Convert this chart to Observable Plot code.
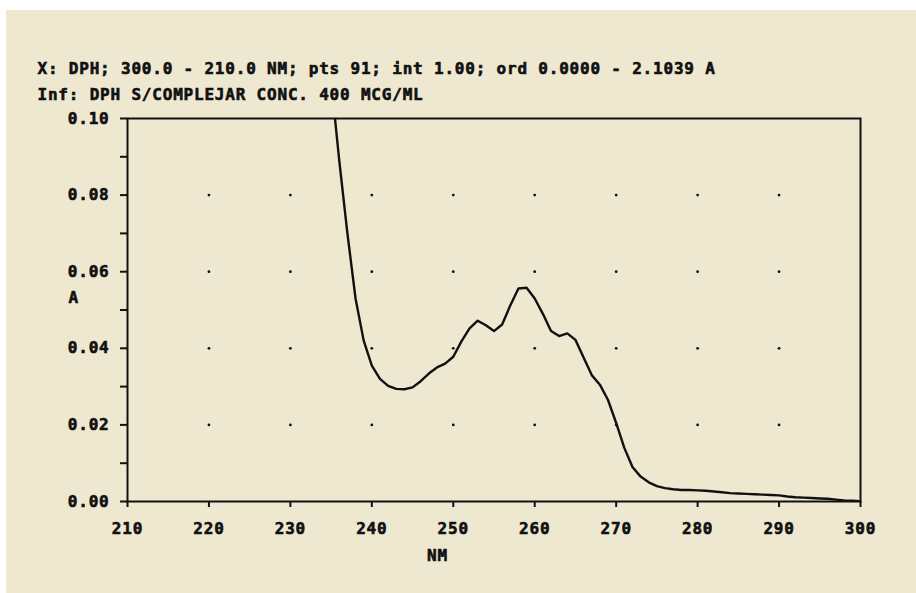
<!DOCTYPE html>
<html>
<head>
<meta charset="utf-8">
<script src="https://cdn.jsdelivr.net/npm/d3@7"></script>
<script src="https://cdn.jsdelivr.net/npm/@observablehq/plot@0.6"></script>
<style>
  html, body { margin: 0; padding: 0; background: #ffffff; }
  #paper { position: absolute; left: 6px; top: 10px; width: 910px; height: 583px; background: #efe8d1; }
  #chart { position: absolute; left: 0; top: 0; }
  #chart svg text { stroke: #111; stroke-width: 0.6px; }
</style>
</head>
<body>
<div id="paper"></div>
<div id="chart"></div>
<script>
// Header texts
const headerLine1 = "X: DPH; 300.0 - 210.0 NM; pts 91; int 1.00; ord 0.0000 - 2.1039 A";
const headerLine2 = "Inf: DPH S/COMPLEJAR CONC. 400 MCG/ML";
const xLabel = "NM";
const yLabel = "A";

// Wavelength grid: 300.0 - 210.0 nm, 91 points, interval 1.00
const wavelengths = d3.range(210, 301, 1);

// Absorbance values (210 ... 300 nm); values below 236 nm are off-scale
const absorbance = [
  2.104, 2.05, 1.95, 1.82, 1.66, 1.48, 1.29, 1.10, 0.93, 0.78,   // 210-219
  0.65, 0.54, 0.45, 0.38, 0.32, 0.27, 0.235, 0.205, 0.18, 0.16, // 220-229
  0.145, 0.133, 0.124, 0.117, 0.112, 0.110,                     // 230-235
  0.089, 0.070, 0.053, 0.042,                                   // 236-239
  0.0355, 0.032, 0.0302, 0.0294, 0.0293, 0.0298, 0.0314, 0.0334, 0.0350, 0.0360, // 240-249
  0.0378, 0.0418, 0.0452, 0.0472, 0.0460, 0.0445, 0.0462, 0.0512, 0.0556, 0.0558, // 250-259
  0.0530, 0.0490, 0.0445, 0.0432, 0.0439, 0.0422, 0.0376, 0.0330, 0.0305, 0.0265, // 260-269
  0.0205, 0.0140, 0.0090, 0.0065, 0.0050, 0.0040, 0.0035, 0.0032, 0.0030, 0.0030, // 270-279
  0.0029, 0.0028, 0.0026, 0.0024, 0.0022, 0.0021, 0.0020, 0.0019, 0.0018, 0.0017, // 280-289
  0.0016, 0.0013, 0.0011, 0.0010, 0.0009, 0.0008, 0.0007, 0.0005, 0.0003, 0.0002, // 290-299
  0.0001                                                          // 300
];

// Axis ticks
const xTicks = [210, 220, 230, 240, 250, 260, 270, 280, 290, 300];
const yTicksMajor = [0.00, 0.02, 0.04, 0.06, 0.08, 0.10];
const yTicksAll = [0.00, 0.01, 0.02, 0.03, 0.04, 0.05, 0.06, 0.07, 0.08, 0.09, 0.10];
const xGridDots = [220, 230, 240, 250, 260, 270, 280, 290];
const yGridDots = [0.02, 0.04, 0.06, 0.08];

const data = wavelengths.map((nm, i) => ({nm, a: absorbance[i]}));
const gridPts = xGridDots.flatMap(x => yGridDots.map(y => ({x, y})));
const isMajor = v => yTicksMajor.some(m => Math.abs(m - v) < 1e-9);

const font = "'DejaVu Sans Mono', 'Liberation Mono', monospace";

const plot = Plot.plot({
  width: 916,
  height: 593,
  marginLeft: 127,
  marginRight: 56,
  marginTop: 118,
  marginBottom: 92,
  style: {
    background: "transparent",
    fontFamily: font,
    fontSize: "16px",
    fontWeight: "bold",
    letterSpacing: "0.8px",
    color: "#111"
  },
  x: {domain: [210, 300], axis: null},
  y: {domain: [0, 0.1], axis: null},
  marks: [
    Plot.axisX({ticks: xTicks, tickSize: 6, tickPadding: 15, strokeWidth: 2, tickFormat: d => String(d)}),
    Plot.axisY({ticks: yTicksAll, tickSize: 7, tickPadding: 11, strokeWidth: 2,
      tickFormat: d => isMajor(d) ? d3.format(".2f")(d) : ""}),
    Plot.dot(gridPts, {x: "x", y: "y", r: 1.4, fill: "#111", stroke: null}),
    Plot.line(data, {x: "nm", y: "a", stroke: "#111", strokeWidth: 2.4, clip: true}),
    Plot.frame({stroke: "#111", strokeWidth: 2}),
    Plot.text([headerLine1], {frameAnchor: "top-left", dx: -90, dy: -50, textAnchor: "start", lineAnchor: "middle", text: d => d}),
    Plot.text([headerLine2], {frameAnchor: "top-left", dx: -90, dy: -24, textAnchor: "start", lineAnchor: "middle", text: d => d}),
    Plot.text([yLabel], {frameAnchor: "top-left", dx: -59, dy: 179, textAnchor: "start", lineAnchor: "middle", text: d => d}),
    Plot.text([xLabel], {frameAnchor: "bottom-left", dx: 310, dy: 54, textAnchor: "middle", lineAnchor: "middle", text: d => d})
  ]
});
document.getElementById("chart").append(plot);
</script>
</body>
</html>
